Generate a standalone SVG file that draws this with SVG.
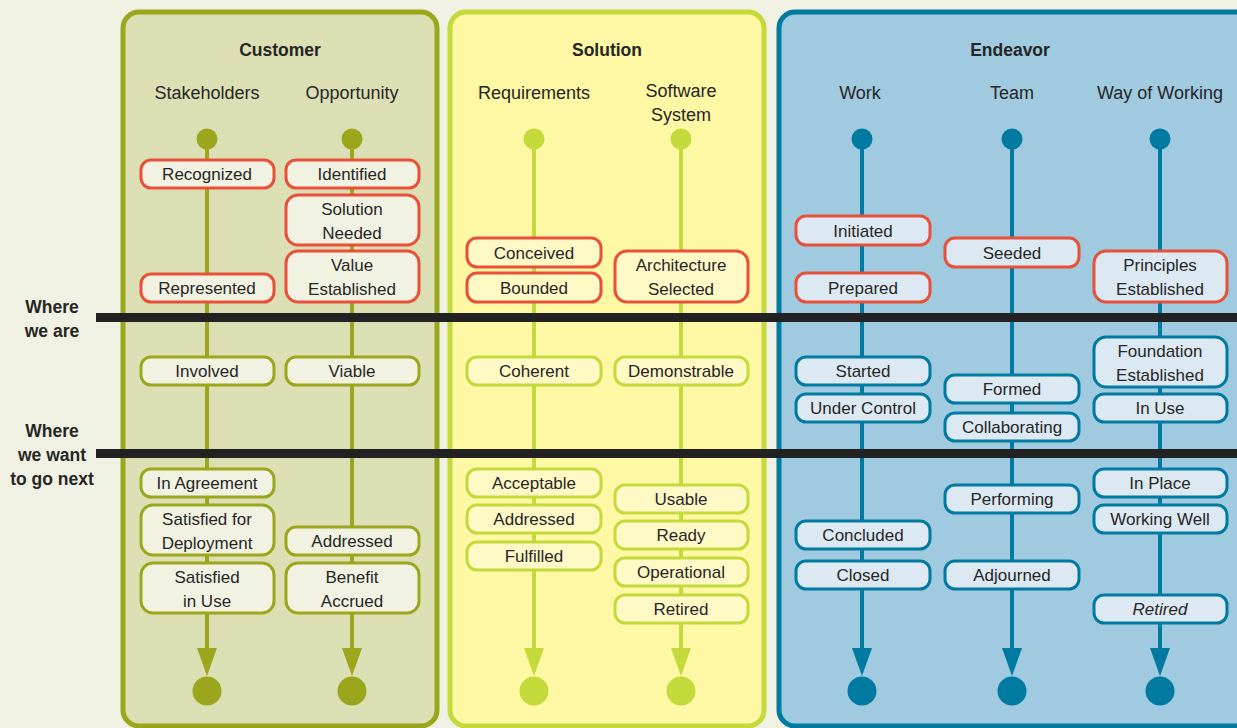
<svg xmlns="http://www.w3.org/2000/svg" width="1237" height="728" viewBox="0 0 1237 728">
<defs>
<style>
text{font-family:"Liberation Sans",Arial,sans-serif;fill:#262626;text-anchor:middle}
.h{font-size:17.5px;font-weight:bold}
.s{font-size:18px}
.b{font-size:17px}
.lbl{font-size:17.5px;font-weight:bold}
.bx{stroke-width:3}
.cu{fill:#f2f2e3;stroke:#9ba61c}
.so{fill:#fff9c6;stroke:#c4d93a}
.en{fill:#dde9f2;stroke:#007aa0}
.red{stroke:#e8503a}
.lc{stroke:#9ba61c}
.ls{stroke:#c4d93a}
.le{stroke:#007aa0}
.ln{stroke-width:4;fill:none}
</style>
<marker id="ac" markerUnits="userSpaceOnUse" markerWidth="30" markerHeight="22" refX="0" refY="11" orient="auto"><path d="M0,1 L28,11 L0,21 z" fill="#9ba61c"/></marker>
<marker id="as" markerUnits="userSpaceOnUse" markerWidth="30" markerHeight="22" refX="0" refY="11" orient="auto"><path d="M0,1 L28,11 L0,21 z" fill="#c4d93a"/></marker>
<marker id="ae" markerUnits="userSpaceOnUse" markerWidth="30" markerHeight="22" refX="0" refY="11" orient="auto"><path d="M0,1 L28,11 L0,21 z" fill="#007aa0"/></marker>
</defs>
<rect width="1237" height="728" fill="#f1f1e3"/>

<g id="panels">
<rect x="123" y="12" width="314" height="714" rx="16" fill="#dcdfb3" stroke="#9ba61c" stroke-width="5"/>
<rect x="450" y="12" width="314" height="714" rx="16" fill="#fef7a4" stroke="#c4d93a" stroke-width="5"/>
<rect x="779" y="12" width="500" height="714" rx="16" fill="#a0cadf" stroke="#007aa0" stroke-width="5"/>
<text class="h" x="280" y="56">Customer</text>
<text class="h" x="607" y="56">Solution</text>
<text class="h" x="1010" y="56">Endeavor</text>
<text class="s" x="207" y="99">Stakeholders</text>
<text class="s" x="352" y="99">Opportunity</text>
<text class="s" x="534" y="99">Requirements</text>
<text class="s" x="681" y="97">Software</text>
<text class="s" x="681" y="121">System</text>
<text class="s" x="860" y="99">Work</text>
<text class="s" x="1012" y="99">Team</text>
<text class="s" x="1160" y="99">Way of Working</text>
</g>

<g id="connectors">
<line class="ln lc" x1="207" y1="139" x2="207" y2="648" marker-end="url(#ac)"/>
<line class="ln lc" x1="352" y1="139" x2="352" y2="648" marker-end="url(#ac)"/>
<line class="ln ls" x1="534" y1="139" x2="534" y2="648" marker-end="url(#as)"/>
<line class="ln ls" x1="681" y1="139" x2="681" y2="648" marker-end="url(#as)"/>
<line class="ln le" x1="862" y1="139" x2="862" y2="648" marker-end="url(#ae)"/>
<line class="ln le" x1="1012" y1="139" x2="1012" y2="648" marker-end="url(#ae)"/>
<line class="ln le" x1="1160" y1="139" x2="1160" y2="648" marker-end="url(#ae)"/>
<g fill="#9ba61c"><circle cx="207" cy="139" r="10.5"/><circle cx="352" cy="139" r="10.5"/><circle cx="207" cy="691" r="14.5"/><circle cx="352" cy="691" r="14.5"/></g>
<g fill="#c4d93a"><circle cx="534" cy="139" r="10.5"/><circle cx="681" cy="139" r="10.5"/><circle cx="534" cy="691" r="14.5"/><circle cx="681" cy="691" r="14.5"/></g>
<g fill="#007aa0"><circle cx="862" cy="139" r="10.5"/><circle cx="1012" cy="139" r="10.5"/><circle cx="1160" cy="139" r="10.5"/><circle cx="862" cy="691" r="14.5"/><circle cx="1012" cy="691" r="14.5"/><circle cx="1160" cy="691" r="14.5"/></g>
</g>

<g id="stakeholders">
<g id="s-recognized"><rect class="bx cu red" x="141" y="160" width="133" height="28" rx="10"/><text class="b" x="207" y="180">Recognized</text></g>
<g id="s-represented"><rect class="bx cu red" x="141" y="274" width="133" height="28" rx="10"/><text class="b" x="207" y="294">Represented</text></g>
<g id="s-involved"><rect class="bx cu" x="141" y="357" width="133" height="28" rx="10"/><text class="b" x="207" y="377">Involved</text></g>
<g id="s-agreement"><rect class="bx cu" x="141" y="469" width="133" height="28" rx="10"/><text class="b" x="207" y="489">In Agreement</text></g>
<g id="s-deploy"><rect class="bx cu" x="141" y="505" width="133" height="50" rx="12"/><text class="b" x="207" y="525">Satisfied for</text><text class="b" x="207" y="549">Deployment</text></g>
<g id="s-use"><rect class="bx cu" x="141" y="563" width="133" height="50" rx="12"/><text class="b" x="207" y="583">Satisfied</text><text class="b" x="207" y="607">in Use</text></g>
</g>

<g id="opportunity">
<g id="o-identified"><rect class="bx cu red" x="286" y="160" width="133" height="28" rx="10"/><text class="b" x="352" y="180">Identified</text></g>
<g id="o-needed"><rect class="bx cu red" x="286" y="195" width="133" height="50" rx="12"/><text class="b" x="352" y="215">Solution</text><text class="b" x="352" y="239">Needed</text></g>
<g id="o-value"><rect class="bx cu red" x="286" y="251" width="133" height="51" rx="12"/><text class="b" x="352" y="271">Value</text><text class="b" x="352" y="295">Established</text></g>
<g id="o-viable"><rect class="bx cu" x="286" y="357" width="133" height="28" rx="10"/><text class="b" x="352" y="377">Viable</text></g>
<g id="o-addressed"><rect class="bx cu" x="286" y="527" width="133" height="28" rx="10"/><text class="b" x="352" y="547">Addressed</text></g>
<g id="o-benefit"><rect class="bx cu" x="286" y="563" width="133" height="50" rx="12"/><text class="b" x="352" y="583">Benefit</text><text class="b" x="352" y="607">Accrued</text></g>
</g>

<g id="requirements">
<g id="r-conceived"><rect class="bx so red" x="467" y="238" width="134" height="29" rx="10"/><text class="b" x="534" y="259">Conceived</text></g>
<g id="r-bounded"><rect class="bx so red" x="467" y="273" width="134" height="29" rx="10"/><text class="b" x="534" y="294">Bounded</text></g>
<g id="r-coherent"><rect class="bx so" x="467" y="357" width="134" height="28" rx="10"/><text class="b" x="534" y="377">Coherent</text></g>
<g id="r-acceptable"><rect class="bx so" x="467" y="469" width="134" height="28" rx="10"/><text class="b" x="534" y="489">Acceptable</text></g>
<g id="r-addressed"><rect class="bx so" x="467" y="505" width="134" height="28" rx="10"/><text class="b" x="534" y="525">Addressed</text></g>
<g id="r-fulfilled"><rect class="bx so" x="467" y="542" width="134" height="28" rx="10"/><text class="b" x="534" y="562">Fulfilled</text></g>
</g>

<g id="software">
<g id="w-arch"><rect class="bx so red" x="615" y="251" width="133" height="51" rx="12"/><text class="b" x="681" y="271">Architecture</text><text class="b" x="681" y="295">Selected</text></g>
<g id="w-demo"><rect class="bx so" x="615" y="357" width="133" height="28" rx="10"/><text class="b" x="681" y="377">Demonstrable</text></g>
<g id="w-usable"><rect class="bx so" x="615" y="485" width="133" height="28" rx="10"/><text class="b" x="681" y="505">Usable</text></g>
<g id="w-ready"><rect class="bx so" x="615" y="521" width="133" height="28" rx="10"/><text class="b" x="681" y="541">Ready</text></g>
<g id="w-oper"><rect class="bx so" x="615" y="558" width="133" height="28" rx="10"/><text class="b" x="681" y="578">Operational</text></g>
<g id="w-retired"><rect class="bx so" x="615" y="595" width="133" height="28" rx="10"/><text class="b" x="681" y="615">Retired</text></g>
</g>

<g id="work">
<g id="k-initiated"><rect class="bx en red" x="796" y="216" width="134" height="29" rx="10"/><text class="b" x="863" y="237">Initiated</text></g>
<g id="k-prepared"><rect class="bx en red" x="796" y="273" width="134" height="29" rx="10"/><text class="b" x="863" y="294">Prepared</text></g>
<g id="k-started"><rect class="bx en" x="796" y="357" width="134" height="28" rx="10"/><text class="b" x="863" y="377">Started</text></g>
<g id="k-control"><rect class="bx en" x="796" y="394" width="134" height="28" rx="10"/><text class="b" x="863" y="414">Under Control</text></g>
<g id="k-concluded"><rect class="bx en" x="796" y="521" width="134" height="28" rx="10"/><text class="b" x="863" y="541">Concluded</text></g>
<g id="k-closed"><rect class="bx en" x="796" y="561" width="134" height="28" rx="10"/><text class="b" x="863" y="581">Closed</text></g>
</g>

<g id="team">
<g id="t-seeded"><rect class="bx en red" x="945" y="238" width="134" height="29" rx="10"/><text class="b" x="1012" y="259">Seeded</text></g>
<g id="t-formed"><rect class="bx en" x="945" y="375" width="134" height="28" rx="10"/><text class="b" x="1012" y="395">Formed</text></g>
<g id="t-collab"><rect class="bx en" x="945" y="413" width="134" height="28" rx="10"/><text class="b" x="1012" y="433">Collaborating</text></g>
<g id="t-perf"><rect class="bx en" x="945" y="485" width="134" height="28" rx="10"/><text class="b" x="1012" y="505">Performing</text></g>
<g id="t-adj"><rect class="bx en" x="945" y="561" width="134" height="28" rx="10"/><text class="b" x="1012" y="581">Adjourned</text></g>
</g>

<g id="wayofworking">
<g id="y-principles"><rect class="bx en red" x="1094" y="251" width="133" height="51" rx="12"/><text class="b" x="1160" y="271">Principles</text><text class="b" x="1160" y="295">Established</text></g>
<g id="y-foundation"><rect class="bx en" x="1094" y="337" width="133" height="50" rx="12"/><text class="b" x="1160" y="357">Foundation</text><text class="b" x="1160" y="381">Established</text></g>
<g id="y-inuse"><rect class="bx en" x="1094" y="394" width="133" height="28" rx="10"/><text class="b" x="1160" y="414">In Use</text></g>
<g id="y-inplace"><rect class="bx en" x="1094" y="469" width="133" height="28" rx="10"/><text class="b" x="1160" y="489">In Place</text></g>
<g id="y-well"><rect class="bx en" x="1094" y="505" width="133" height="28" rx="10"/><text class="b" x="1160" y="525">Working Well</text></g>
<g id="y-retired"><rect class="bx en" x="1094" y="595" width="133" height="28" rx="10"/><text class="b" x="1160" y="615" font-style="italic">Retired</text></g>
</g>

<g id="markers">
<rect x="96" y="313" width="1141" height="9" fill="#222222"/>
<rect x="96" y="449" width="1141" height="9" fill="#222222"/>
<text class="lbl" x="52" y="313">Where</text>
<text class="lbl" x="52" y="337">we are</text>
<text class="lbl" x="52" y="437">Where</text>
<text class="lbl" x="52" y="461">we want</text>
<text class="lbl" x="52" y="485">to go next</text>
</g>
</svg>
